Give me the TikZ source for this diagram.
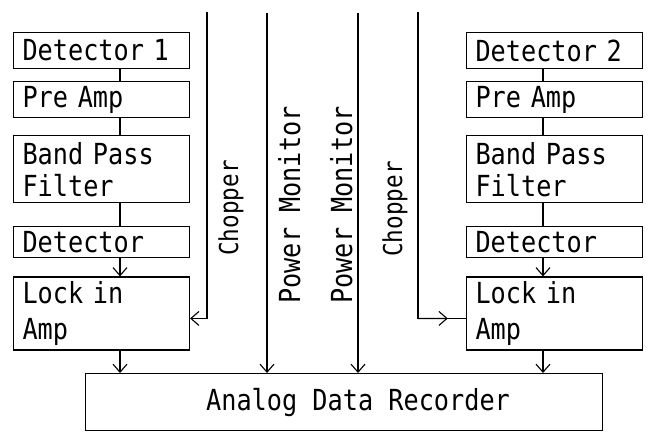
\documentclass[tikz,border=0pt]{standalone}
\usepackage{fontspec}
\newfontfamily\plotfont[FakeStretch=0.87]{DejaVu Sans Mono}
\usetikzlibrary{arrows.meta,positioning,calc}

\begin{document}
\begin{tikzpicture}[x=1pt, y=-1pt, line width=1.1pt, font=\plotfont\fontsize{29}{32}\selectfont,
  >={Straight Barb[length=8pt,width=14pt]}]
\tikzstyle{box}=[draw, align=left, inner xsep=9pt, inner ysep=0pt, text width=158pt, minimum height=36pt]
\tikzstyle{sig}=[rotate=90, anchor=base, inner sep=0pt]
\useasboundingbox (0,0) rectangle (648,433);
% left channel
\node[box, anchor=north west] (det1) at (13,32) {Detector 1};
\node[box, below=12pt of det1] (pre1) {Pre Amp};
\node[box, below=17pt of pre1, minimum height=67pt] (bpf1) {Band Pass\\Filter};
\node[box, below=23pt of bpf1, minimum height=31pt] (dtc1) {Detector};
\node[box, below=18pt of dtc1, minimum height=73pt] (lock1) {Lock in\\[4pt]Amp};
% right channel
\node[box, anchor=north west] (det2) at (466,32) {Detector 2};
\node[box, below=12pt of det2] (pre2) {Pre Amp};
\node[box, below=17pt of pre2, minimum height=67pt] (bpf2) {Band Pass\\Filter};
\node[box, below=23pt of bpf2, minimum height=31pt] (dtc2) {Detector};
\node[box, below=18pt of dtc2, minimum height=73pt] (lock2) {Lock in\\[4pt]Amp};
\node[draw, anchor=north west, minimum width=517pt, minimum height=57pt] (rec) at (85,373) {\hspace*{28pt}Analog Data Recorder};
\coordinate (ax1) at (120,0);
\coordinate (ax2) at (543,0);
\coordinate (ch1) at (207,12);
\coordinate (pm1) at (267,13);
\coordinate (pm2) at (358,13);
\coordinate (ch2) at (418,12);
\node[sig, font=\plotfont\fontsize{26}{30}\selectfont] (lch1) at (238,208) {Chopper};
\node[sig] (lpm1) at (300,205) {Power Monitor};
\node[sig] (lpm2) at (352,205) {Power Monitor};
\node[sig, font=\plotfont\fontsize{26}{30}\selectfont] (lch2) at (402,209) {Chopper};
% signal chains
\draw (det1.south -| ax1) -- (pre1.north -| ax1);
\draw (pre1.south -| ax1) -- (bpf1.north -| ax1);
\draw (bpf1.south -| ax1) -- (dtc1.north -| ax1);
\draw[->] (dtc1.south -| ax1) -- (lock1.north -| ax1);
\draw[->] (lock1.south -| ax1) -- (rec.north -| ax1);
\draw (det2.south -| ax2) -- (pre2.north -| ax2);
\draw (pre2.south -| ax2) -- (bpf2.north -| ax2);
\draw (bpf2.south -| ax2) -- (dtc2.north -| ax2);
\draw[->] (dtc2.south -| ax2) -- (lock2.north -| ax2);
\draw[->] (lock2.south -| ax2) -- (rec.north -| ax2);
% reference and monitor lines
\draw[->] (ch1) |- ([yshift=-5pt]lock1.east);
\draw[->] (pm1) -- (pm1 |- rec.north);
\draw[->] (pm2) -- (pm2 |- rec.north);
\path ([yshift=-5pt]lock2.west) coordinate (lk2in);
\draw (ch2) |- (lk2in);
\draw[->] (ch2 |- lk2in) -- ($(ch2 |- lk2in)!0.62!(lk2in)$);
\end{tikzpicture}
\end{document}
